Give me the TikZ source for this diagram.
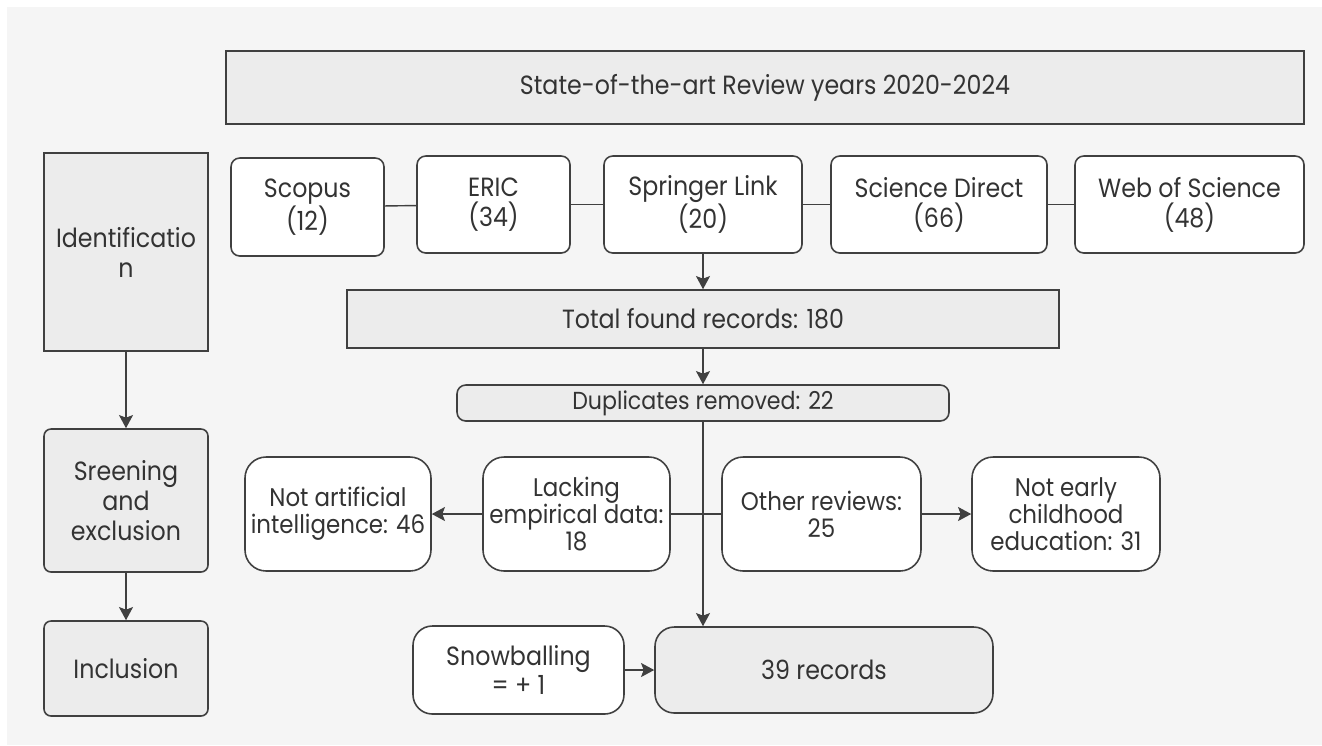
\documentclass[tikz,border=0pt]{standalone}
\usepackage{fontspec}
\setmainfont[FakeStretch=0.9]{Poppins}
\usetikzlibrary{arrows.meta}

\definecolor{bggray}{HTML}{F5F5F5}
\definecolor{boxgray}{HTML}{ECECEC}
\definecolor{edgegray}{HTML}{404040}
\definecolor{textgray}{HTML}{333333}

\begin{document}
\begin{tikzpicture}[x=0.02cm, y=-0.02cm,
        every node/.style={font=\fontsize{15}{17}\selectfont, text=textgray, align=center, inner sep=0pt},
        dims/.style 2 args={minimum width=#1*0.02cm, minimum height=#2*0.02cm},
        box/.style={draw=edgegray, line width=0.9pt},
        greybox/.style={box, fill=boxgray},
        whitebox/.style={box, fill=white},
        exclbox/.style={whitebox, rounded corners=12pt, dims={#1}{114}, font=\fontsize{14.5}{15.5}\selectfont},
        link/.style={draw=edgegray, line width=0.8pt},
        arrow/.style={link, -{Stealth[length=7.5pt, width=8pt, inset=1.5pt]}}]
        \useasboundingbox (0, 0) rectangle (1322, 745);
        \fill[bggray] (7, 7) rectangle (1322, 745);

        \draw (765, 87.5) node[greybox, dims={1078}{73}] (title) {State-of-the-art Review years 2020-2024};

        % stages
        \draw (126, 252) node[greybox, dims={164}{198}] (ident) {Identificatio\\n};
        \draw (126, 500.5) node[greybox, rounded corners=4pt, dims={164}{143}] (screen) {Sreening\\and\\exclusion};
        \draw (126, 668.5) node[greybox, rounded corners=4pt, dims={164}{95}] (incl) {Inclusion};

        % databases
        \draw (307.5, 207) node[whitebox, rounded corners=5pt, dims={153}{98}] (scopus) {Scopus\\(12)};
        \draw (493.5, 204.5) node[whitebox, rounded corners=5pt, dims={153}{97}] (eric) {ERIC\\(34)};
        \draw (703, 204.5) node[whitebox, rounded corners=5pt, dims={198}{97}] (springer) {Springer Link\\(20)};
        \draw (939, 204.5) node[whitebox, rounded corners=5pt, dims={216}{97}] (scidirect) {Science Direct\\(66)};
        \draw (1189.5, 204.5) node[whitebox, rounded corners=5pt, dims={229}{97}] (wos) {Web of Science\\(48)};

        \draw (703, 319) node[greybox, dims={712}{58}] (total) {Total found records: 180};
        \draw (703, 403) node[greybox, rounded corners=5pt, dims={492}{36}, font=\fontsize{14}{16}\selectfont] (dupl) {Duplicates removed: 22};

        % exclusions
        \draw (338, 514) node[exclbox=186] (notai) {Not artificial\\intelligence: 46};
        \draw (576.5, 514) node[exclbox=187] (lacking) {Lacking\\empirical data:\\18};
        \draw (821.5, 514) node[exclbox=199] (other) {Other reviews:\\25};
        \draw (1066, 514) node[exclbox=188] (notearly) {Not early\\childhood\\education: 31};

        \draw (518.5, 670) node[whitebox, rounded corners=11pt, dims={211}{88}] (snow) {Snowballing\\= + 1};
        \draw (824, 670) node[greybox, rounded corners=11pt, dims={338}{86}] (records) {39 records};

        \draw[arrow] (ident) -- (screen);
        \draw[arrow] (screen) -- (incl);
        \draw[link] (scopus) -- (eric);
        \draw[link] (eric) -- (springer);
        \draw[link] (springer) -- (scidirect);
        \draw[link] (scidirect) -- (wos);
        \draw[arrow] (springer) -- (total);
        \draw[arrow] (total) -- (dupl);
        \draw[arrow] (dupl.south) -- (dupl.south |- records.north);
        \draw[link] (lacking) -- (other);
        \draw[arrow] (lacking) -- (notai);
        \draw[arrow] (other) -- (notearly);
        \draw[arrow] (snow) -- (records);
    \end{tikzpicture}
\end{document}
